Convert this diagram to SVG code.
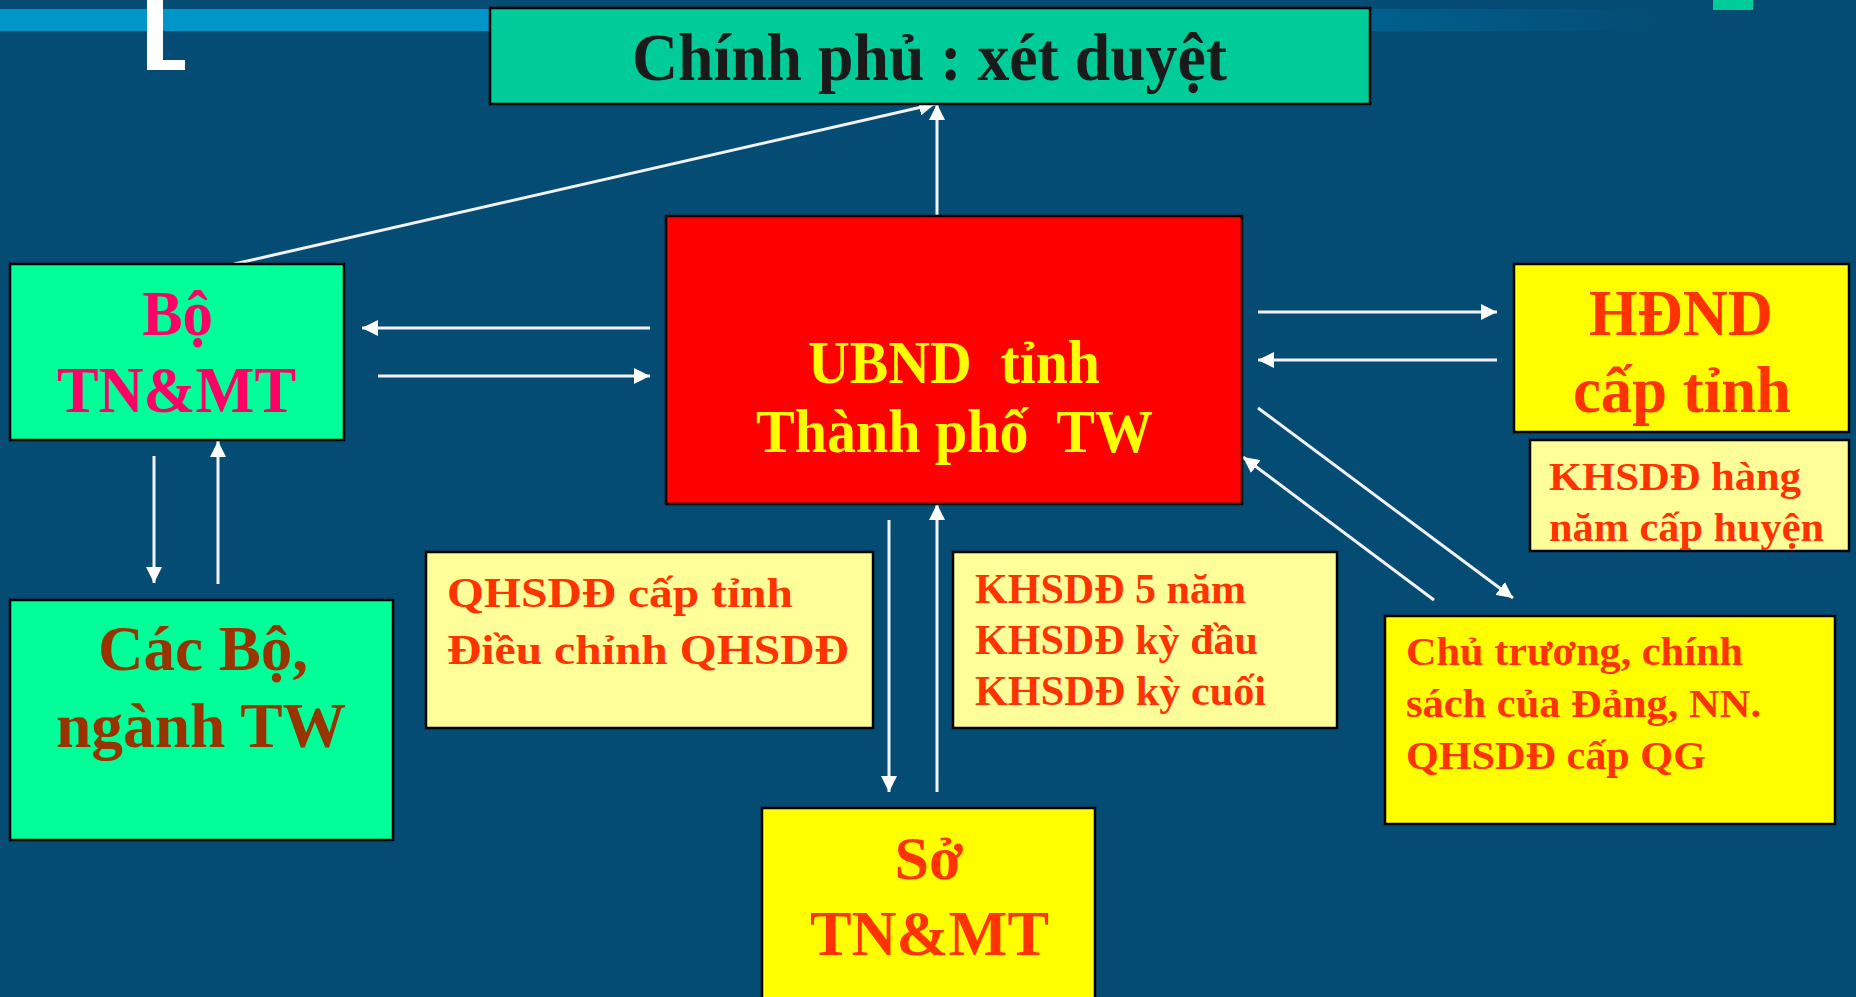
<svg xmlns="http://www.w3.org/2000/svg" width="1856" height="997" viewBox="0 0 1856 997">
<defs>
<linearGradient id="barfade" x1="0" y1="0" x2="1" y2="0">
<stop offset="0" stop-color="#00608E"/>
<stop offset="1" stop-color="#044C74"/>
</linearGradient>
<marker id="ah" markerUnits="userSpaceOnUse" markerWidth="16" markerHeight="16" refX="16" refY="8" orient="auto">
<path d="M0,0 L16,8 L0,16 z" fill="#FFFFFF"/>
</marker>
<style>
.box{stroke:#000000;stroke-width:2.5}
.t{font-family:"Liberation Serif","Times New Roman",serif;font-weight:bold}
.con line{stroke:#F2F2F2;stroke-width:3;marker-end:url(#ah)}
</style>
</defs>
<rect x="0" y="0" width="1856" height="997" fill="#044C74"/>
<rect x="0" y="9" width="500" height="22" fill="#0096C8"/>
<rect x="1370" y="9" width="290" height="22" fill="url(#barfade)"/>
<rect x="1713" y="0" width="40" height="10" fill="#00CC99"/>
<path d="M147,0 H163 V60 H185 V70 H147 Z" fill="#FFFFFF"/>

<g class="con">
<line x1="234" y1="264" x2="935" y2="104"/>
<line x1="937" y1="216" x2="937" y2="104"/>
<line x1="650" y1="328" x2="362" y2="328"/>
<line x1="378" y1="376" x2="650" y2="376"/>
<line x1="1258" y1="312" x2="1497" y2="312"/>
<line x1="1497" y1="360" x2="1258" y2="360"/>
<line x1="1258" y1="408" x2="1513" y2="598"/>
<line x1="1434" y1="600" x2="1243" y2="457"/>
<line x1="889" y1="520" x2="889" y2="792"/>
<line x1="937" y1="792" x2="937" y2="504"/>
<line x1="154" y1="456" x2="154" y2="583"/>
<line x1="218" y1="584" x2="218" y2="441"/>
</g>

<g id="chinhphu">
<rect class="box" x="490" y="8" width="880" height="96" fill="#00CC99"/>
<text class="t" x="632" y="80" font-size="68" fill="#1A1A1A" textLength="595" lengthAdjust="spacingAndGlyphs">Chính phủ : xét duyệt</text>
</g>

<g id="botnmt">
<rect class="box" x="10" y="264" width="334" height="176" fill="#00FF99"/>
<text class="t" x="142" y="335" font-size="64" fill="#FF0066" textLength="71" lengthAdjust="spacingAndGlyphs">Bộ</text>
<text class="t" x="57" y="412" font-size="65" fill="#FF0066" textLength="239" lengthAdjust="spacingAndGlyphs">TN&amp;MT</text>
</g>

<g id="ubnd">
<rect class="box" x="666" y="216" width="576" height="288" fill="#FF0000"/>
<text class="t" x="808" y="383" font-size="61" fill="#FFFF00" textLength="292" lengthAdjust="spacingAndGlyphs" xml:space="preserve">UBND  tỉnh</text>
<text class="t" x="756" y="452" font-size="61" fill="#FFFF00" textLength="397" lengthAdjust="spacingAndGlyphs" xml:space="preserve">Thành phố  TW</text>
</g>

<g id="hdnd">
<rect class="box" x="1514" y="264" width="335" height="168" fill="#FFFF00"/>
<text class="t" x="1589" y="335" font-size="65" fill="#FF3300" textLength="184" lengthAdjust="spacingAndGlyphs">HĐND</text>
<text class="t" x="1573" y="412" font-size="65" fill="#FF3300" textLength="218" lengthAdjust="spacingAndGlyphs">cấp tỉnh</text>
</g>

<g id="khsdd-hangnam">
<rect class="box" x="1530" y="440" width="319" height="111" fill="#FFFF99"/>
<text class="t" x="1549" y="490" font-size="41" fill="#FF3300" textLength="252" lengthAdjust="spacingAndGlyphs">KHSDĐ hàng</text>
<text class="t" x="1549" y="541" font-size="41" fill="#FF3300" textLength="275" lengthAdjust="spacingAndGlyphs">năm cấp huyện</text>
</g>

<g id="chutruong">
<rect class="box" x="1385" y="616" width="450" height="208" fill="#FFFF00"/>
<text class="t" x="1406" y="665" font-size="41" fill="#FF3300" textLength="337" lengthAdjust="spacingAndGlyphs">Chủ trương, chính</text>
<text class="t" x="1406" y="717" font-size="41" fill="#FF3300" textLength="355" lengthAdjust="spacingAndGlyphs">sách của Đảng, NN.</text>
<text class="t" x="1406" y="769" font-size="41" fill="#FF3300" textLength="300" lengthAdjust="spacingAndGlyphs">QHSDĐ cấp QG</text>
</g>

<g id="khsdd-5nam">
<rect class="box" x="953" y="552" width="384" height="176" fill="#FFFF99"/>
<text class="t" x="975" y="603" font-size="43" fill="#FF3300" textLength="271" lengthAdjust="spacingAndGlyphs">KHSDĐ 5 năm</text>
<text class="t" x="975" y="654" font-size="43" fill="#FF3300" textLength="283" lengthAdjust="spacingAndGlyphs">KHSDĐ kỳ đầu</text>
<text class="t" x="975" y="705" font-size="43" fill="#FF3300" textLength="291" lengthAdjust="spacingAndGlyphs">KHSDĐ kỳ cuối</text>
</g>

<g id="qhsdd">
<rect class="box" x="426" y="552" width="447" height="176" fill="#FFFF99"/>
<text class="t" x="447" y="607" font-size="43" fill="#FF3300" textLength="346" lengthAdjust="spacingAndGlyphs">QHSDĐ cấp tỉnh</text>
<text class="t" x="447" y="664" font-size="43" fill="#FF3300" textLength="402" lengthAdjust="spacingAndGlyphs">Điều chỉnh QHSDĐ</text>
</g>

<g id="sotnmt">
<rect class="box" x="762" y="808" width="333" height="200" fill="#FFFF00"/>
<text class="t" x="929" y="879" font-size="62" fill="#FF3300" text-anchor="middle">Sở</text>
<text class="t" x="810" y="955" font-size="63" fill="#FF3300" textLength="239" lengthAdjust="spacingAndGlyphs">TN&amp;MT</text>
</g>

<g id="cacbo">
<rect class="box" x="10" y="600" width="383" height="240" fill="#00FF99"/>
<text class="t" x="98" y="670" font-size="64" fill="#993300" textLength="210" lengthAdjust="spacingAndGlyphs">Các Bộ,</text>
<text class="t" x="56" y="747" font-size="64" fill="#993300" textLength="290" lengthAdjust="spacingAndGlyphs">ngành TW</text>
</g>
</svg>
